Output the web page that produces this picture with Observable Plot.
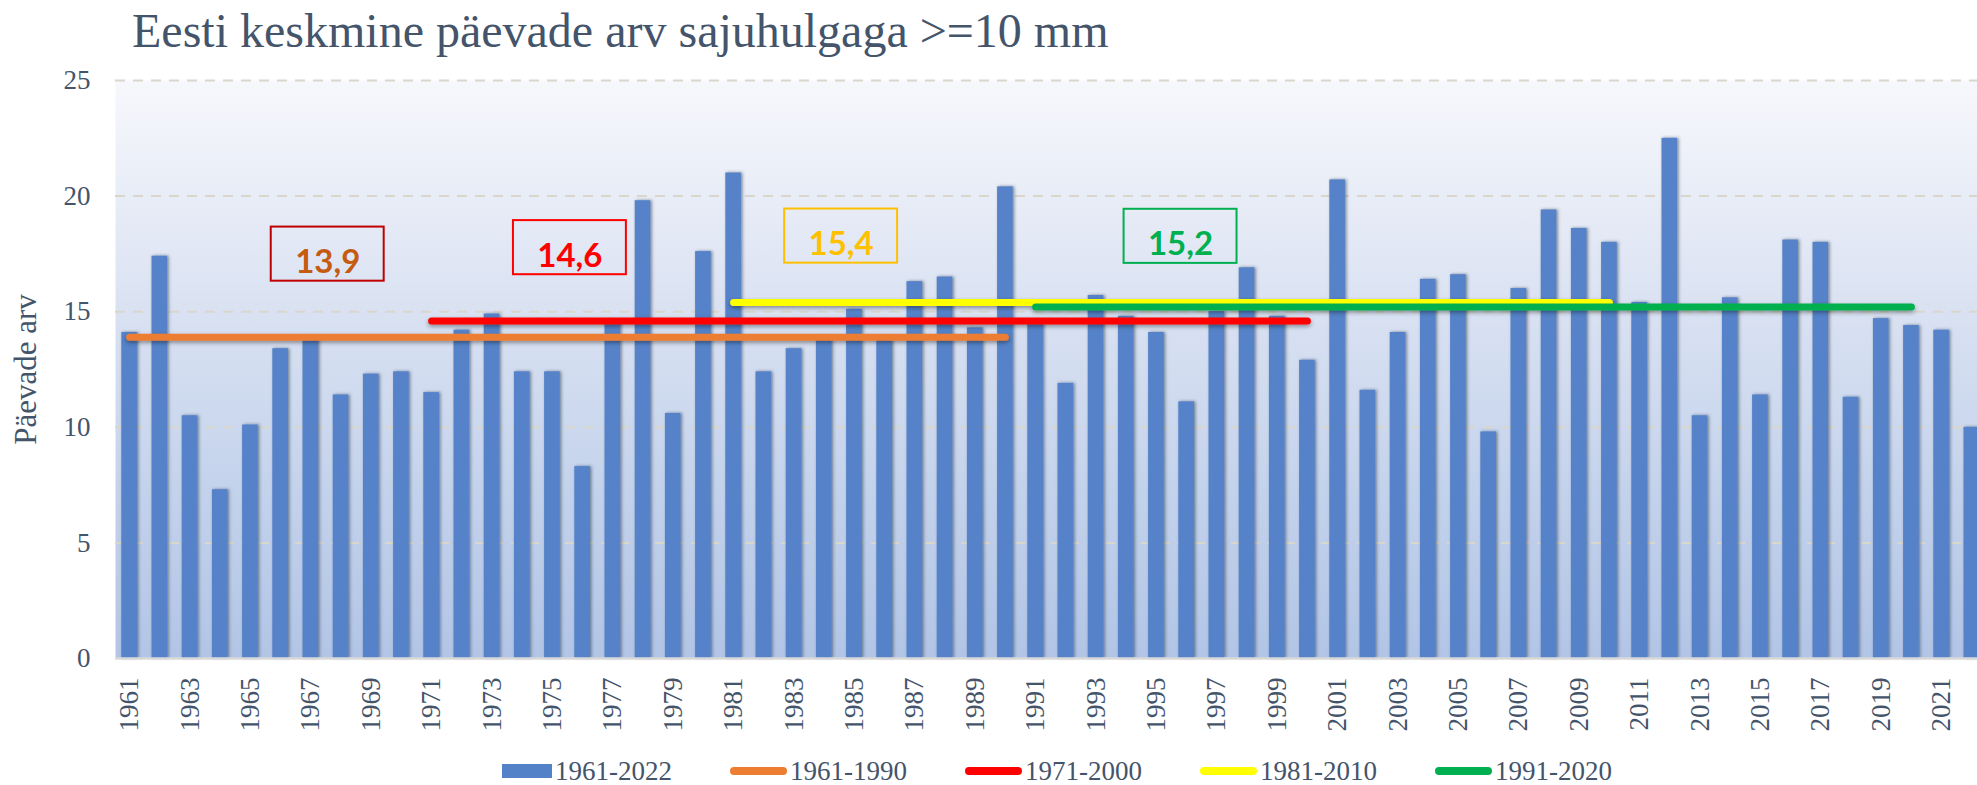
<!DOCTYPE html>
<html><head><meta charset="utf-8">
<script src="https://cdn.jsdelivr.net/npm/d3@7"></script>
<script src="https://cdn.jsdelivr.net/npm/@observablehq/plot@0.6"></script>
<style>
html,body{margin:0;padding:0;background:#fff;overflow:hidden;}
#title{height:62px;line-height:62px;font-family:"Liberation Serif";font-size:48px;color:#44546a;padding-left:132px;white-space:nowrap;}
#chart svg{display:block;}
#legend{display:flex;justify-content:center;align-items:center;gap:58px;height:32px;padding-left:137px;font-family:"Liberation Serif";font-size:27px;color:#44546a;white-space:nowrap;}
.item{display:flex;align-items:center;gap:3px;}
</style></head><body>
<div id="title">Eesti keskmine päevade arv sajuhulgaga &gt;=10 mm</div>
<div id="chart"></div>
<div id="legend"></div>
<script>
// ---- data ----
const years = d3.range(1961, 2023);
const values = [
  14.1, 17.4, 10.5, 7.3, 10.1, 13.4, 13.9, 11.4, 12.3, 12.4,
  11.5, 14.2, 14.9, 12.4, 12.4, 8.3, 14.6, 19.8, 10.6, 17.6,
  21.0, 12.4, 13.4, 13.9, 15.1, 13.8, 16.3, 16.5, 14.3, 20.4,
  14.5, 11.9, 15.7, 14.8, 14.1, 11.1, 15.0, 16.9, 14.8, 12.9,
  20.7, 11.6, 14.1, 16.4, 16.6, 9.8, 16.0, 19.4, 18.6, 18.0,
  15.4, 22.5, 10.5, 15.6, 11.4, 18.1, 18.0, 11.3, 14.7, 14.4,
  14.2, 10.0
];
const tickYears = years.filter(y => (y - 1961) % 2 === 0);
const yTicks = [0, 5, 10, 15, 20, 25];
const seriesName = "1961-2022";
const periodNames = ["1961-1990", "1971-2000", "1981-2010", "1991-2020"];
const periodStart = [1961, 1971, 1981, 1991];
const periodEnd = [1990, 2000, 2010, 2020];
const periodMean = [13.9, 14.6, 15.4, 15.2];
const periodLabel = ["13,9", "14,6", "15,4", "15,2"];
// annotation box centres (year, value)
const labelYear = [1967.56, 1975.58, 1984.56, 1995.80];
const labelValue = [17.49, 17.77, 18.27, 18.26];

// ---- styles ----
const barColor = "#5482c8";
const lineColors = ["#ed7d31", "#ff0000", "#ffff00", "#00b050"];
const boxColors = ["#c00000", "#ff0000", "#ffc000", "#00b050"];
const textColors = ["#c55a11", "#ff0000", "#ffc000", "#00b050"];
const boxHalfW = 1.87, boxHalfH = 1.17;
const serif = "Liberation Serif";

const bars = years.map((year, i) => ({year, value: values[i]}));
const periods = periodNames.map((name, i) => ({
  name, start: periodStart[i], end: periodEnd[i], mean: periodMean[i],
  label: periodLabel[i], lx: labelYear[i], ly: labelValue[i],
  line: lineColors[i], box: boxColors[i], text: textColors[i]
}));

const plot = Plot.plot({
  width: 1977, height: 693,
  marginLeft: 115, marginRight: 0, marginTop: 18, marginBottom: 97,
  x: {type: "linear", domain: [1960.5, 2022.5], range: [114, 1986.4]},
  y: {domain: [0, 25]},
  color: {type: "identity"},
  style: {fontFamily: serif, fontSize: "27px", color: "#44546a", background: "transparent", overflow: "hidden"},
  marks: [
    Plot.frame({fill: "url(#bgGrad)", stroke: "none"}),
    Plot.gridY(yTicks.slice(1), {stroke: "#d9d6cc", strokeOpacity: 1, strokeWidth: 2, strokeDasharray: "10,8"}),
    Plot.rectY(bars, {x1: d => d.year - 0.5, x2: d => d.year + 0.5, y: "value", insetLeft: 7.3, insetRight: 7.3, fill: barColor}),
    Plot.ruleY([0], {stroke: "#d9d9d9", strokeWidth: 2.5}),
    Plot.link(periods, {x1: "start", x2: "end", y1: "mean", y2: "mean", stroke: "line", strokeWidth: 7, strokeLinecap: "round"}),
    Plot.rect(periods, {x1: d => d.lx - boxHalfW, x2: d => d.lx + boxHalfW, y1: d => d.ly - boxHalfH, y2: d => d.ly + boxHalfH, fill: "none", stroke: "box", strokeWidth: 2}),
    Plot.text(periods, {x: "lx", y: d => d.ly - boxHalfH + 0.35, text: "label", lineAnchor: "bottom", fill: "text", fontFamily: "Lato", fontWeight: "bold", fontSize: 33}),
    Plot.axisY({ticks: yTicks, tickSize: 0, tickPadding: 25, label: null, fontSize: 27, fontFamily: serif}),
    Plot.axisX({ticks: tickYears, tickFormat: d => String(d), tickRotate: -90, tickSize: 0, tickPadding: 19, label: null, fontSize: 27, fontFamily: serif}),
    Plot.text(["Päevade arv"], {frameAnchor: "left", dx: -89, rotate: -90, textAnchor: "middle", text: d => d, fontSize: 31, fontFamily: serif, fill: "#44546a"})
  ]
});

const svg = d3.select(plot);
const defs = svg.insert("defs", ":first-child");
const grad = defs.append("linearGradient").attr("id", "bgGrad").attr("x1", 0).attr("y1", 0).attr("x2", 0).attr("y2", 1);
[["0%", "#f7f8fc"], ["35%", "#dde4f3"], ["70%", "#c4d3ec"], ["100%", "#b2c5e6"]].forEach(([o, c]) =>
  grad.append("stop").attr("offset", o).attr("stop-color", c));
const f1 = defs.append("filter").attr("id", "barShadow").attr("filterUnits", "userSpaceOnUse")
  .attr("x", 0).attr("y", 0).attr("width", 2100).attr("height", 800);
f1.append("feDropShadow").attr("dx", 1.5).attr("dy", 0).attr("stdDeviation", 1.8).attr("flood-color", "#1f2d45").attr("flood-opacity", 0.55);
const f2 = defs.append("filter").attr("id", "lineShadow").attr("filterUnits", "userSpaceOnUse")
  .attr("x", 0).attr("y", 0).attr("width", 2100).attr("height", 800);
f2.append("feDropShadow").attr("dx", 0).attr("dy", 2).attr("stdDeviation", 2).attr("flood-color", "#000").attr("flood-opacity", 0.4);
svg.select('g[aria-label="rect"]').attr("filter", "url(#barShadow)");
svg.select('g[aria-label="link"]').attr("filter", "url(#lineShadow)");

document.getElementById("chart").appendChild(plot);

// ---- legend ----
const legend = d3.select("#legend");
const it0 = legend.append("div").attr("class", "item");
it0.append("div").style("width", "50px").style("height", "14px").style("background", barColor);
it0.append("span").text(seriesName);
periods.forEach(p => {
  const it = legend.append("div").attr("class", "item");
  it.append("div").style("width", "57px").style("height", "8px").style("border-radius", "4px").style("background", p.line);
  it.append("span").text(p.name);
});
</script>
</body></html>
